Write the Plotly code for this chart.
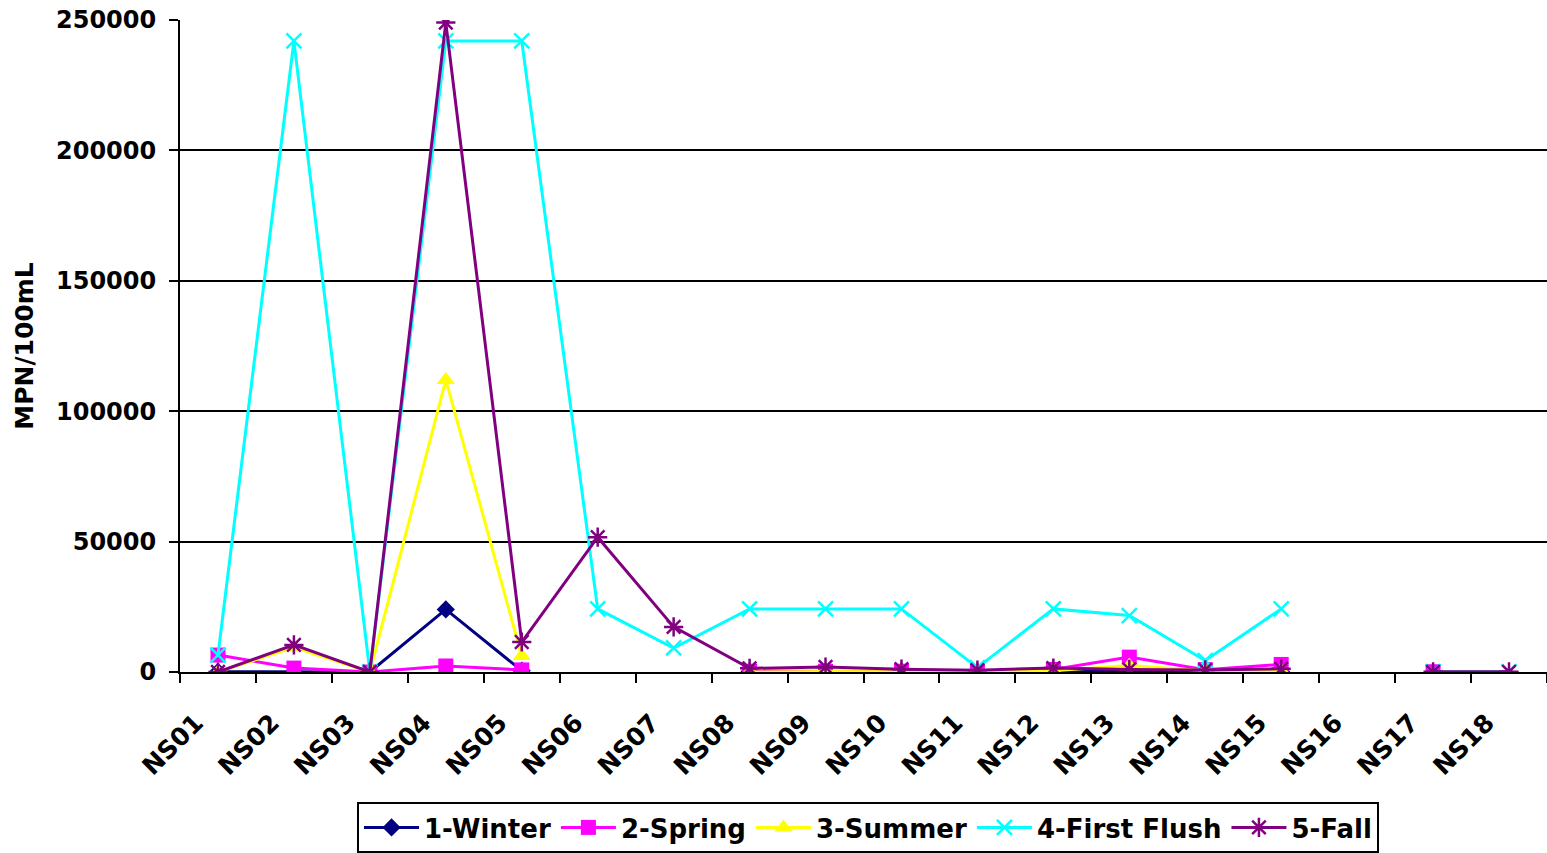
import plotly.graph_objects as go

# Sampling sites along the x axis
sites = ["NS01", "NS02", "NS03", "NS04", "NS05", "NS06", "NS07", "NS08", "NS09",
         "NS10", "NS11", "NS12", "NS13", "NS14", "NS15", "NS16", "NS17", "NS18"]

# MPN/100mL per sampling event (None = not sampled)
winter = [100, 100, 0, 24000, 500, None, None, 200, 200,
          200, 200, 200, 100, 200, 200, None, None, None]
spring = [6500, 1500, 0, 2300, 800, None, None, 300, 300,
          300, 200, 1000, 5700, 900, 2900, None, 100, None]
summer = [0, 9500, 0, 112000, 6100, None, None, 0, 200,
          100, 0, 500, 2500, 500, 500, None, None, None]
first_flush = [6500, 241960, 0, 241960, 241960, 24196, 9208, 24196, 24196,
               24196, 1700, 24196, 21650, 4400, 24196, None, 100, 100]
fall = [0, 10400, 0, 249000, 11500, 51700, 17300, 1400, 1900,
        1100, 700, 1500, 1000, 800, 1200, None, 50, 50]

y_ticks = [0, 50000, 100000, 150000, 200000, 250000]

FONT = "DejaVu Sans"
pos = list(range(1, len(sites) + 1))

series = [
    ("1-Winter", winter, "#000080", "diamond", 14, 0),
    ("2-Spring", spring, "#FF00FF", "square", 15, 0),
    ("3-Summer", summer, "#FFFF00", "triangle-up", 16, 0),
    ("4-First Flush", first_flush, "#00FFFF", "x-thin-open", 15, 2.5),
    ("5-Fall", fall, "#800080", "asterisk-open", 16, 2.5),
]

fig = go.Figure()
for name, vals, color, symbol, size, lw in series:
    marker = dict(symbol=symbol, size=size, color=color)
    if lw:
        marker["line"] = dict(color=color, width=lw)
    else:
        marker["line"] = dict(width=0)
    fig.add_trace(go.Scatter(
        x=pos, y=vals, name=name, mode="lines+markers",
        line=dict(color=color, width=3),
        marker=marker,
    ))

fig.update_layout(
    width=1547, height=853,
    margin=dict(l=180, r=0, t=20, b=181),
    paper_bgcolor="white", plot_bgcolor="white",
    font=dict(family=FONT, size=24, color="black", weight="bold"),
    legend=dict(
        orientation="h",
        x=0.1295, xanchor="left",
        y=-0.2, yanchor="top",
        bordercolor="black", borderwidth=2,
        font=dict(family=FONT, size=26, color="black", weight="bold"),
        itemwidth=55,
        bgcolor="white",
    ),
)

fig.update_xaxes(
    range=[0.5, 18.5],
    tickvals=pos, ticktext=sites,
    ticks="", tickangle=-45,
    ticklabelstandoff=24, ticklabelshift=-22,
    showgrid=False, zeroline=False,
    showline=True, linecolor="black", linewidth=2,
    tickfont=dict(family=FONT, size=25, color="black", weight="bold"),
    minor=dict(tick0=0.5, dtick=1, ticks="outside", ticklen=9,
               tickwidth=2, tickcolor="black", showgrid=False),
)

fig.update_yaxes(
    range=[0, 250000],
    tickvals=y_ticks, ticktext=[str(v) for v in y_ticks],
    ticks="outside", ticklen=9, tickwidth=2, tickcolor="black",
    showgrid=True, gridcolor="black", gridwidth=2,
    zeroline=False,
    showline=True, linecolor="black", linewidth=2,
    ticklabelstandoff=8,
    tickfont=dict(family=FONT, size=24, color="black", weight="bold"),
    title=dict(text="MPN/100mL", standoff=15,
               font=dict(family=FONT, size=25, color="black", weight="bold")),
)

fig.write_html("out.html")
